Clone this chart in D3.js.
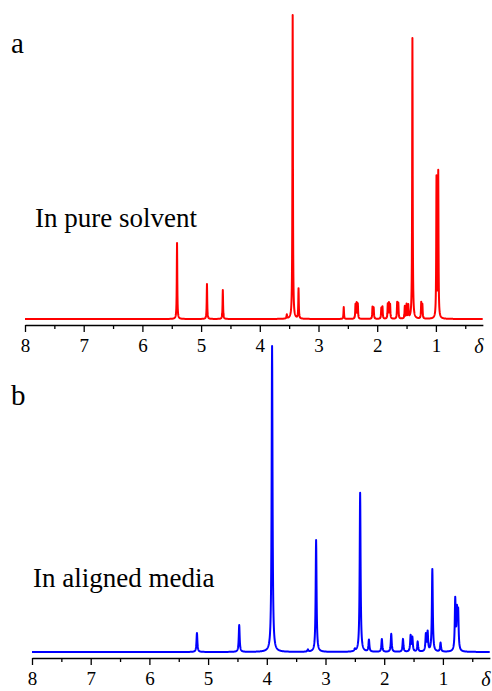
<!DOCTYPE html>
<html>
<head>
<meta charset="utf-8">
<script src="https://cdn.jsdelivr.net/npm/d3@7"></script>
<style>
  body { margin: 0; background: #fff; }
  text { font-family: "Liberation Serif", "Times New Roman", serif; }
</style>
</head>
<body>
<script>
// peak lists: chemical shift (ppm) and relative height
const shiftsA = [5.41, 4.90, 4.63, 3.54, 3.44, 3.34, 2.57, 2.37, 2.35, 2.33, 2.08, 2.06,
                 1.93, 1.91, 1.82, 1.80, 1.78, 1.66, 1.64, 1.53, 1.50, 1.47, 1.40, 1.25, 1.23, 0.99, 0.96];
const heightsA = [25.0, 11.5, 9.5, 1.3, 100, 9.9, 3.9, 4.6, 5.0, 4.8, 3.9, 3.6,
                  3.5, 3.9, 4.8, 5.0, 4.6, 5.3, 5.0, 4.0, 4.6, 4.3, 92.4, 5.3, 4.6, 46.0, 47.8];

const shiftsB = [5.19, 4.47, 3.91, 3.30, 3.16, 2.50, 2.41, 2.26, 2.04, 1.88, 1.68,
                 1.55, 1.52, 1.43, 1.29, 1.26, 1.18, 1.04, 0.79, 0.76, 0.74];
const heightsB = [6.2, 8.8, 100, 0.7, 36.6, 0.7, 52, 3.9, 4.2, 5.9, 4.2,
                  5.2, 4.5, 3.3, 5.5, 6.2, 27, 2.9, 16.7, 12, 12];

const majorTicks = [8, 7, 6, 5, 4, 3, 2, 1];
const minorTicks = [7.5, 6.5, 5.5, 4.5, 3.5, 2.5, 1.5, 0.5];

const width = 492, height = 691;
const svg = d3.select("body").append("svg")
    .attr("width", width)
    .attr("height", height);

// lorentzian sum over a fine grid of shifts
function spectrum(shifts, heights, hw) {
    const grid = d3.range(8, 0.2, -0.0025).concat(shifts).sort((a, b) => b - a);
    return grid.map(d => {
        let y = 0;
        shifts.forEach((c, i) => {
            y += heights[i] * hw * hw / ((d - c) * (d - c) + hw * hw);
        });
        return [d, y];
    });
}

function panel(cfg) {
    const x = d3.scaleLinear().domain([8, 0.2]).range([cfg.x0, cfg.x0 + 7.8 * 58.7]);
    const y = d3.scaleLinear().domain([0, 100]).range([cfg.base, cfg.top]);
    const g = svg.append("g");

    const line = d3.line().x(d => x(d[0])).y(d => y(d[1]));
    g.append("path")
        .datum(spectrum(cfg.shifts, cfg.heights, cfg.hw))
        .attr("d", line)
        .attr("fill", "none")
        .attr("stroke", cfg.color)
        .attr("stroke-width", 2)
        .attr("stroke-linejoin", "round");

    // minor ticks first, then major axis with labels
    g.append("g")
        .attr("transform", `translate(0,${cfg.axisY})`)
        .call(d3.axisBottom(x).tickValues(minorTicks).tickSize(4).tickSizeOuter(0).tickFormat(""))
        .call(a => a.select(".domain").remove())
        .selectAll("line").attr("stroke-width", 1.3);

    const ax = g.append("g")
        .attr("transform", `translate(0,${cfg.axisY})`)
        .call(d3.axisBottom(x).tickValues(majorTicks).tickSize(7).tickSizeOuter(0)
            .tickPadding(6.5).tickFormat(d3.format("d")));
    ax.select(".domain").attr("stroke-width", 1.6);
    ax.selectAll("line").attr("stroke-width", 1.3);
    ax.selectAll("text")
        .attr("font-family", "Liberation Serif")
        .attr("font-size", 19)
        .attr("fill", "#000");

    g.append("text")
        .attr("x", cfg.x0 + 454)
        .attr("y", cfg.axisY + 28)
        .attr("text-anchor", "middle")
        .attr("font-size", 20)
        .attr("font-style", "italic")
        .text("δ");

    g.append("text")
        .attr("x", 11)
        .attr("y", cfg.letterY)
        .attr("font-size", 29)
        .text(cfg.letter);

    g.append("text")
        .attr("x", cfg.labelX)
        .attr("y", cfg.labelY)
        .attr("font-size", 27)
        .text(cfg.label);
}

panel({
    shifts: shiftsA, heights: heightsA, hw: 0.005, color: "#ff0000",
    x0: 25, base: 319, top: 15, axisY: 325,
    letter: "a", letterY: 53, label: "In pure solvent", labelX: 35, labelY: 227
});

panel({
    shifts: shiftsB, heights: heightsB, hw: 0.009, color: "#0000ff",
    x0: 32, base: 652, top: 346, axisY: 658,
    letter: "b", letterY: 405, label: "In aligned media", labelX: 33, labelY: 587
});
</script>
</body>
</html>
